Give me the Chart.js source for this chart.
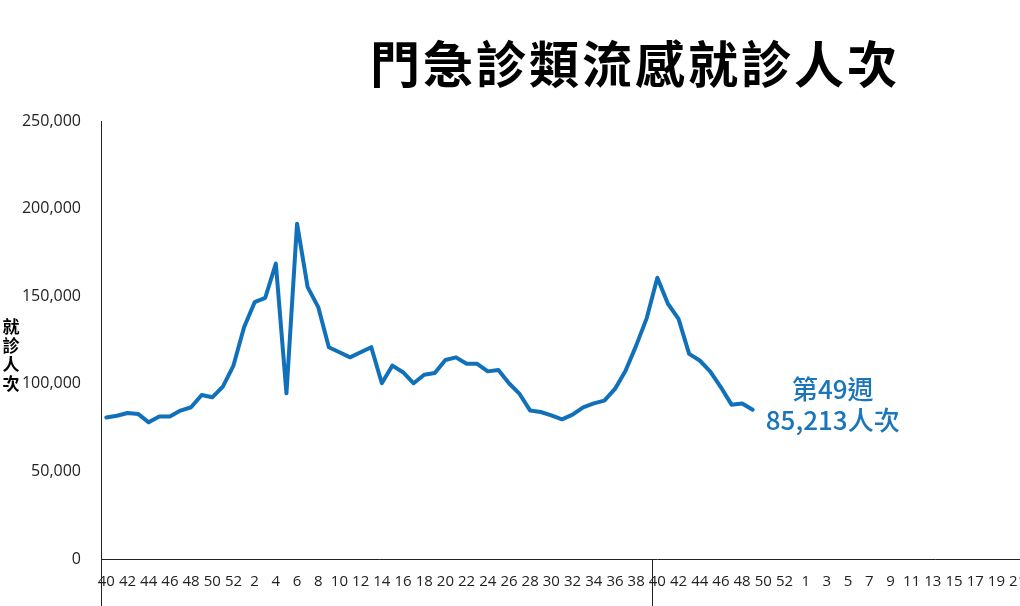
<!DOCTYPE html>
<html>
<head>
  <title>門急診類流感就診人次</title>
  <script src="https://cdn.jsdelivr.net/npm/chart.js"></script>
  <style>
    html, body {
      margin: 0;
      padding: 0;
      background-color: #FFFFFF;
      overflow: hidden;
    }

    .wrap {
      position: relative;
      width: 1231px;
      height: 606px;
    }

    .chart-title {
      position: absolute;
      left: 0;
      top: 36px;
      width: 1270px;
      text-align: center;
      font-family: "Noto Sans CJK TC", sans-serif;
      font-weight: bold;
      font-size: 50px;
      line-height: 1;
      letter-spacing: 3px;
      color: #000000;
    }

    canvas {
      display: block;
    }
  </style>
</head>
<body>
  <div class="wrap">
    <canvas id="fluChart" width="1231" height="606"></canvas>
    <div class="chart-title">門急診類流感就診人次</div>
  </div>

  <script>
    // week numbers, previous season (week 40 to week 39 of next year)
    const lastSeasonWeeks = [40, 41, 42, 43, 44, 45, 46, 47, 48, 49, 50, 51, 52,
      1, 2, 3, 4, 5, 6, 7, 8, 9, 10, 11, 12, 13, 14, 15, 16, 17, 18, 19, 20,
      21, 22, 23, 24, 25, 26, 27, 28, 29, 30, 31, 32, 33, 34, 35, 36, 37, 38, 39];

    // week numbers, current season (has a week 53)
    const thisSeasonWeeks = [40, 41, 42, 43, 44, 45, 46, 47, 48, 49, 50, 51, 52, 53,
      1, 2, 3, 4, 5, 6, 7, 8, 9, 10, 11, 12, 13, 14, 15, 16, 17, 18, 19, 20,
      21, 22, 23, 24, 25, 26, 27, 28, 29, 30, 31, 32, 33, 34, 35, 36, 37, 38, 39];

    // previous season, weekly visits
    const lastSeason = [80800, 81800, 83300, 82800, 78000, 81400, 81400, 84700, 86600, 93600,
      92300, 98400, 110400, 132300, 146600, 149100, 168600, 94600, 191400, 155200,
      143800, 120900, 118000, 115100, 118000, 120900, 100300, 110400, 106600, 100300,
      105200, 106200, 113600, 115100, 111400, 111400, 107100, 107900, 100300, 94200,
      84700, 83900, 82000, 79700, 82400, 86600, 88800, 90400, 97100, 107500,
      121800, 137500];

    // current season, up to week 49
    const thisSeason = [160500, 145700, 137100, 117100, 113300, 107000, 98000, 88100, 88800, 85213];

    const yTicks = [0, 50000, 100000, 150000, 200000, 250000];
    const yAxisTitle = ['就', '診', '人', '次'];
    const noteLines = ['第49週', '85,213人次'];

    const lineColor = '#1170BA';
    const labels = [...lastSeasonWeeks, ...thisSeasonWeeks];
    const values = [...lastSeason, ...thisSeason];

    const extras = {
      id: 'extras',
      afterDraw(chart) {
        const ctx = chart.ctx;
        const x = chart.scales.x;
        const area = chart.chartArea;
        const step = x.getPixelForValue(1) - x.getPixelForValue(0);

        // season dividers below the axis
        ctx.save();
        ctx.strokeStyle = '#222222';
        ctx.lineWidth = 1;
        [0, lastSeasonWeeks.length].forEach((i) => {
          const px = Math.round(x.getPixelForValue(i) - step / 2) + 0.5;
          ctx.beginPath();
          ctx.moveTo(px, area.bottom);
          ctx.lineTo(px, chart.height);
          ctx.stroke();
        });

        // stacked y axis title
        ctx.fillStyle = '#000000';
        ctx.font = 'bold 17px "Noto Sans CJK TC", sans-serif';
        ctx.textAlign = 'center';
        ctx.textBaseline = 'middle';
        yAxisTitle.forEach((ch, i) => {
          ctx.fillText(ch, 11, 327 + i * 19);
        });

        // note next to the latest point
        const meta = chart.getDatasetMeta(0);
        const last = meta.data[values.length - 1];
        ctx.fillStyle = '#1A75BB';
        ctx.font = '500 26px "Noto Sans CJK TC", sans-serif';
        noteLines.forEach((t, i) => {
          ctx.fillText(t, last.x + 80, last.y - 21 + i * 31);
        });
        ctx.restore();
      }
    };

    const ctx = document.getElementById('fluChart').getContext('2d');
    new Chart(ctx, {
      type: 'line',
      data: {
        labels: labels,
        datasets: [{
          label: '門急診類流感就診人次',
          data: values,
          borderColor: lineColor,
          backgroundColor: lineColor,
          borderWidth: 4,
          borderJoinStyle: 'round',
          borderCapStyle: 'round',
          pointRadius: 0,
          tension: 0,
          fill: false,
        }],
      },
      options: {
        responsive: false,
        animation: false,
        devicePixelRatio: 1,
        layout: {
          padding: { top: 121, right: 8, bottom: 1, left: 0 },
        },
        plugins: {
          legend: { display: false },
          tooltip: { enabled: false },
        },
        scales: {
          x: {
            type: 'category',
            offset: true,
            grid: { display: false, drawTicks: false },
            border: { display: true, color: '#222222', width: 1 },
            ticks: {
              autoSkip: false,
              maxRotation: 0,
              padding: 14,
              color: '#222222',
              font: { family: '"Open Sans", sans-serif', size: 15 },
              callback: (value, index) => (index % 2 === 0 ? labels[index] : ''),
            },
          },
          y: {
            min: 0,
            max: 250000,
            afterFit: (scale) => { scale.width = 101; },
            afterBuildTicks: (scale) => { scale.ticks = yTicks.map((v) => ({ value: v })); },
            grid: { display: false, drawTicks: false },
            border: { display: true, color: '#222222', width: 1 },
            ticks: {
              padding: 20,
              color: '#222222',
              font: { family: '"Open Sans", sans-serif', size: 16 },
              callback: (value) => value.toLocaleString('en-US'),
            },
          },
        },
      },
      plugins: [extras],
    });
  </script>
</body>
</html>
